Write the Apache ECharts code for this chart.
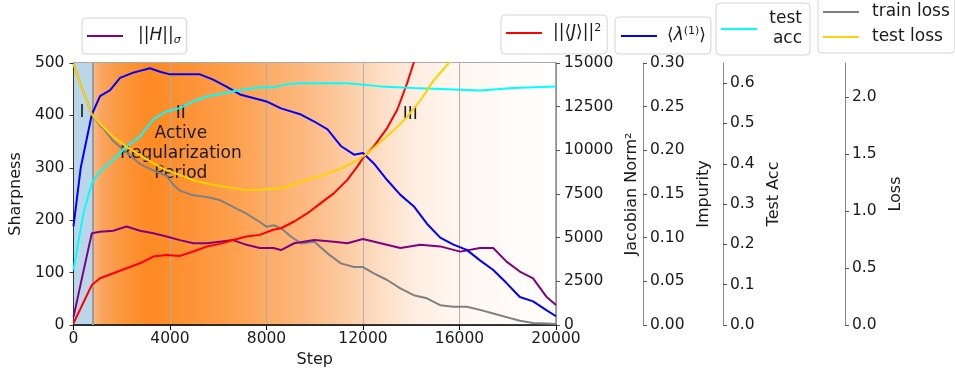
<!DOCTYPE html>
<html>
<head>
<meta charset="utf-8">
<script src="https://cdn.jsdelivr.net/npm/echarts@6/dist/echarts.min.js"></script>
<style>html,body{margin:0;padding:0;background:#fff}#c{width:955px;height:379px}</style>
</head>
<body>
<div id="c"></div>
<script>
// ---- data ----
const xTicks = [0, 4000, 8000, 12000, 16000, 20000];
const phaseBounds = [0, 800, 20000];

// ||H||_sigma (Sharpness axis)
const hSteps = [0, 400, 760, 1100, 1650, 2200, 2760, 3310, 3860, 4410, 4970, 5520, 6070, 6620, 7170, 7720, 8280, 8600, 9150, 9980, 10800, 11350, 12000, 12730, 13550, 14380, 15200, 16030, 16850, 17400, 17950, 18500, 19050, 19600, 20000];
const hVals = [15, 100, 175, 178, 180, 188, 180, 175, 169, 162, 156, 156, 159, 162, 153, 147, 147, 143, 156, 162, 159, 156, 164, 156, 147, 153, 150, 140, 147, 147, 121, 102, 89, 54, 38];

// ||<J>||^2 (Jacobian Norm^2 axis)
const jSteps = [0, 760, 1100, 1650, 2200, 2760, 3310, 3860, 4410, 4970, 5520, 6070, 6620, 7170, 7720, 8280, 8600, 9150, 9700, 10250, 10800, 11350, 11770, 12000, 12450, 13000, 13420, 13830, 14100, 14300];
const jVals = [100, 2290, 2675, 2960, 3250, 3535, 3920, 4010, 3955, 4205, 4490, 4645, 4870, 5065, 5160, 5450, 5540, 5925, 6400, 6975, 7550, 8310, 9080, 9555, 10225, 11275, 12325, 13850, 15000, 16300];

// <lambda^(1)> (Impurity axis)
const lSteps = [0, 300, 760, 1100, 1520, 1930, 2480, 3170, 3590, 4000, 4690, 5240, 5790, 6340, 6900, 7450, 8000, 8600, 9430, 9980, 10530, 11080, 11630, 12000, 12450, 13000, 13550, 14100, 14650, 15200, 15750, 16300, 16850, 17400, 17950, 18500, 19050, 19600, 20000];
const lVals = [0.113, 0.180, 0.241, 0.262, 0.269, 0.283, 0.289, 0.294, 0.290, 0.287, 0.287, 0.287, 0.281, 0.273, 0.264, 0.260, 0.256, 0.248, 0.241, 0.233, 0.224, 0.205, 0.195, 0.197, 0.185, 0.166, 0.149, 0.136, 0.116, 0.100, 0.092, 0.086, 0.074, 0.063, 0.048, 0.032, 0.027, 0.017, 0.010];

// test acc (Test Acc axis)
const aSteps = [0, 410, 760, 1100, 1650, 2200, 2760, 3310, 3860, 4410, 4970, 5520, 6070, 6620, 7170, 7720, 8280, 8830, 9380, 9980, 11350, 12730, 14100, 15480, 16850, 18230, 20000];
const aVals = [0.137, 0.277, 0.352, 0.381, 0.410, 0.443, 0.468, 0.510, 0.530, 0.538, 0.555, 0.567, 0.573, 0.580, 0.585, 0.590, 0.590, 0.597, 0.600, 0.600, 0.600, 0.592, 0.588, 0.585, 0.582, 0.588, 0.592];

// train loss (Loss axis)
const rSteps = [0, 280, 550, 760, 1100, 1240, 1650, 2200, 2760, 3310, 3860, 4140, 4410, 4970, 5520, 6070, 6620, 7170, 7720, 8000, 8300, 8605, 9020, 9430, 9980, 10530, 11080, 11630, 12000, 12450, 13000, 13550, 14100, 14650, 15200, 15750, 16300, 16850, 17400, 17950, 18500, 19050, 19600, 20000];
const rVals = [2.294, 2.12, 1.973, 1.849, 1.753, 1.725, 1.615, 1.514, 1.413, 1.358, 1.308, 1.23, 1.18, 1.138, 1.124, 1.097, 1.037, 0.977, 0.904, 0.863, 0.876, 0.849, 0.775, 0.716, 0.73, 0.629, 0.541, 0.509, 0.509, 0.454, 0.395, 0.321, 0.262, 0.234, 0.174, 0.161, 0.161, 0.133, 0.101, 0.069, 0.037, 0.018, 0.014, 0.009];

// test loss (Loss axis)
const tSteps = [0, 280, 550, 760, 1100, 1650, 2200, 2760, 3310, 3860, 4410, 4970, 5520, 6070, 6620, 7170, 7720, 8280, 8830, 9430, 10250, 11080, 11630, 12180, 12730, 13280, 13830, 14380, 14930, 15480, 16000];
const tVals = [2.294, 2.12, 1.973, 1.849, 1.766, 1.652, 1.564, 1.491, 1.418, 1.358, 1.317, 1.271, 1.243, 1.22, 1.202, 1.184, 1.188, 1.197, 1.211, 1.257, 1.308, 1.372, 1.431, 1.505, 1.606, 1.711, 1.826, 1.973, 2.147, 2.28, 2.42];

const accTicks = [0, 0.1, 0.2, 0.3, 0.4, 0.5, 0.6];
const lossTicks = [0, 0.5, 1.0, 1.5, 2.0];

// annotations (text, step, sharpness)
const notes = [
  ['I', 350, 405],
  ['II\nActive\nRegularization\nPeriod', 4450, 347],
  ['III', 13960, 401]
];

// ---- chart ----
const FONT = 'DejaVu Sans';
const pair = (xs, ys) => xs.map((x, i) => [x, ys[i]]);
const chart = echarts.init(document.getElementById('c'), null, {renderer: 'canvas'});

const orangeGrad = {
  type: 'linear', x: 0, y: 0, x2: 1, y2: 0,
  colorStops: [
    {offset: 0, color: '#fbb887'}, {offset: 0.02, color: '#f9a45c'},
    {offset: 0.07, color: '#fc9539'}, {offset: 0.12, color: '#fd8a24'},
    {offset: 0.16, color: '#fd8d2a'}, {offset: 0.22, color: '#fd943a'},
    {offset: 0.30, color: '#fd9f4d'}, {offset: 0.37, color: '#fcab64'},
    {offset: 0.45, color: '#fdb77e'}, {offset: 0.52, color: '#fdc598'},
    {offset: 0.58, color: '#fdd3b2'}, {offset: 0.64, color: '#fee2cc'},
    {offset: 0.70, color: '#feeee2'}, {offset: 0.78, color: '#fff6ef'},
    {offset: 0.88, color: '#fffaf7'}, {offset: 1, color: '#ffffff'}
  ]
};

const tickFont = {fontFamily: FONT, fontSize: 15.5, color: '#1a1a1a'};
const nameFont = {fontFamily: FONT, fontSize: 16, color: '#1a1a1a'};
const legendBase = {
  borderColor: '#d4d4d4', borderWidth: 1, borderRadius: 4,
  backgroundColor: 'rgba(255,255,255,0.85)',
  icon: 'rect', itemWidth: 36, itemHeight: 2, orient: 'vertical', itemGap: 5,
  selectedMode: false
};
const rich = {
  n: {fontFamily: FONT, fontSize: 17, color: '#1a1a1a'},
  i: {fontFamily: FONT, fontSize: 17, fontStyle: 'italic', color: '#1a1a1a'},
  s: {fontFamily: FONT, fontSize: 11, fontStyle: 'italic', color: '#1a1a1a', verticalAlign: 'bottom'},
  p: {fontFamily: FONT, fontSize: 11, color: '#1a1a1a', verticalAlign: 'top'},
  r: {fontFamily: FONT, fontSize: 17, color: '#1a1a1a', width: 35, align: 'right'}
};
const legendText = {
  H: '{n|||}{i|H}{n|||}{s|σ}',
  J: '{n|||⟨}{i|J}{n|⟩||}{p|2}',
  lam: '{n|⟨}{i|λ}{p|(1)}{n|⟩}',
  acc: '{r|test}\n{r|acc}',
  train: '{n|train loss}',
  test: '{n|test loss}'
};
const mkLegend = (names, extra, textPad) => Object.assign({}, legendBase, {
  data: names,
  formatter: (nm) => legendText[nm],
  textStyle: {fontFamily: FONT, fontSize: 17, lineHeight: 20, color: '#1a1a1a', padding: [0, 0, 0, textPad], rich: rich}
}, extra);

const lineSeries = (name, color, yIdx, data, z) => ({
  name: name, type: 'line', yAxisIndex: yIdx, data: data,
  symbol: 'none', smooth: false, z: z, clip: true,
  lineStyle: {color: color, width: 2}, itemStyle: {color: color},
  emphasis: {disabled: true}
});
const plain = v => String(v);

const option = {
  animation: false,
  textStyle: {fontFamily: FONT},
  grid: {left: 73, right: 399, top: 63, bottom: 54, show: true, borderColor: '#555', borderWidth: 1, backgroundColor: 'transparent'},
  legend: [
    mkLegend(['H'], {left: 82, top: 18, padding: [8, 6, 8, 5]}, 10),
    mkLegend(['J'], {left: 501, top: 15, padding: [8, 6, 11, 5]}, 6),
    mkLegend(['lam'], {left: 615, top: 17, padding: [9, 5, 8, 6]}, 5),
    mkLegend(['acc'], {left: 716, top: 3, padding: [6, 8, 6, 5]}, 5),
    mkLegend(['train', 'test'], {left: 818, top: -4, padding: [6, 5, 6, 5]}, 8)
  ],
  xAxis: {
    type: 'value', min: 0, max: 20000, interval: 4000, z: 3,
    axisLine: {lineStyle: {color: '#000', width: 1.5}},
    axisTick: {show: true, length: 5, lineStyle: {color: '#000'}},
    axisLabel: Object.assign({margin: 6, formatter: plain}, tickFont),
    splitLine: {show: true, lineStyle: {color: '#b0b0b0', width: 1}},
    name: 'Step', nameLocation: 'middle', nameGap: 27, nameTextStyle: nameFont
  },
  yAxis: [
    {
      type: 'value', position: 'left', min: 0, max: 500, interval: 100, z: 3,
      axisLine: {show: true, lineStyle: {color: '#333'}},
      axisTick: {show: true, length: 4, lineStyle: {color: '#333'}},
      axisLabel: Object.assign({margin: 9, formatter: plain}, tickFont),
      splitLine: {show: false},
      name: 'Sharpness', nameLocation: 'middle', nameRotate: 90, nameGap: 44, nameTextStyle: nameFont
    },
    {
      type: 'value', position: 'right', offset: 0, min: 0, max: 15000, interval: 2500, z: 3,
      axisLine: {show: true, lineStyle: {color: '#888', width: 1.5}},
      axisTick: {show: true, length: 4, lineStyle: {color: '#555'}},
      axisLabel: Object.assign({margin: 8, formatter: plain}, tickFont),
      splitLine: {show: false},
      name: 'Jacobian Norm²', nameLocation: 'middle', nameRotate: 90, nameGap: 66, nameTextStyle: nameFont
    },
    {
      type: 'value', position: 'right', offset: 87, min: 0, max: 0.3, interval: 0.05, z: 3,
      axisLine: {show: true, lineStyle: {color: '#888'}},
      axisTick: {show: true, length: 4, lineStyle: {color: '#555'}},
      axisLabel: Object.assign({margin: 7, formatter: v => v.toFixed(2)}, tickFont),
      splitLine: {show: false},
      name: 'Impurity', nameLocation: 'middle', nameRotate: 90, nameGap: 51, nameTextStyle: nameFont
    },
    {
      type: 'value', position: 'right', offset: 167, min: 0, max: 0.65, interval: 0.1, z: 3,
      axisLine: {show: true, lineStyle: {color: '#888'}},
      axisTick: {show: true, length: 4, lineStyle: {color: '#555'}, customValues: accTicks},
      axisLabel: Object.assign({margin: 7, formatter: v => v.toFixed(1), customValues: accTicks}, tickFont),
      splitLine: {show: false},
      name: 'Test Acc', nameLocation: 'middle', nameRotate: 90, nameGap: 31, nameTextStyle: nameFont
    },
    {
      type: 'value', position: 'right', offset: 289, min: 0, max: 2.3, interval: 0.5, z: 3,
      axisLine: {show: true, lineStyle: {color: '#888'}},
      axisTick: {show: true, length: 4, lineStyle: {color: '#555'}, customValues: lossTicks},
      axisLabel: Object.assign({margin: 7, formatter: v => v.toFixed(1), customValues: lossTicks}, tickFont),
      splitLine: {show: false},
      name: 'Loss', nameLocation: 'middle', nameRotate: 90, nameGap: 40, nameTextStyle: nameFont
    }
  ],
  series: [
    {
      name: 'bg', type: 'line', yAxisIndex: 0, data: [], z: 1, silent: true,
      markArea: {
        silent: true,
        data: [
          [{xAxis: phaseBounds[0], itemStyle: {color: '#bcd6e9'}}, {xAxis: phaseBounds[1]}],
          [{xAxis: phaseBounds[1], itemStyle: {color: orangeGrad}}, {xAxis: phaseBounds[2]}]
        ]
      },
      markLine: {
        silent: true, symbol: 'none', label: {show: false},
        lineStyle: {color: '#9a9a9a', width: 2, type: 'solid'},
        data: [{xAxis: phaseBounds[1]}]
      }
    },
    lineSeries('train', '#808080', 4, pair(rSteps, rVals), 5),
    lineSeries('H', '#800080', 0, pair(hSteps, hVals), 6),
    lineSeries('J', '#ff0000', 1, pair(jSteps, jVals), 7),
    lineSeries('lam', '#0000ff', 2, pair(lSteps, lVals), 8),
    lineSeries('acc', '#00ffff', 3, pair(aSteps, aVals), 9),
    Object.assign(lineSeries('test', '#ffd200', 4, pair(tSteps, tVals), 10), {
      markPoint: {
        symbol: 'circle', symbolSize: 0, silent: true,
        label: {show: true, position: 'inside', fontFamily: FONT, fontSize: 17, lineHeight: 20, color: '#1a1a1a', align: 'center'},
        data: notes.map(n => ({coord: [n[1], n[2] * 2.3 / 500], value: n[0], label: {formatter: n[0]}}))
      }
    })
  ]
};
chart.setOption(option);
</script>
</body>
</html>
